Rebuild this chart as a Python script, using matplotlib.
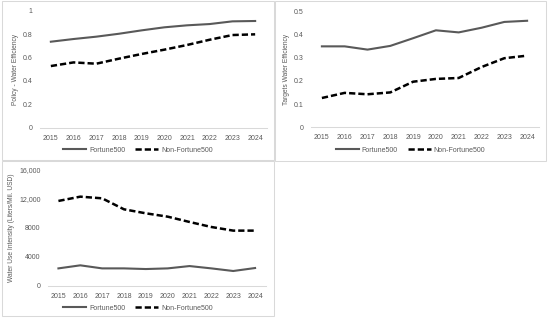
import matplotlib
matplotlib.use("Agg")
import matplotlib.pyplot as plt
from matplotlib.patches import Rectangle

plt.rcParams.update({
    'font.family': ['Liberation Sans', 'DejaVu Sans'],
    'font.size': 5.0,
})

years = [2015, 2016, 2017, 2018, 2019, 2020, 2021, 2022, 2023, 2024]

policy_f500 = [0.735, 0.758, 0.778, 0.803, 0.832, 0.858, 0.875, 0.886, 0.909, 0.912]
policy_non = [0.527, 0.558, 0.547, 0.590, 0.630, 0.667, 0.707, 0.752, 0.792, 0.798]

targets_f500 = [0.348, 0.348, 0.334, 0.350, 0.383, 0.417, 0.408, 0.428, 0.453, 0.458]
targets_non = [0.126, 0.148, 0.142, 0.150, 0.196, 0.208, 0.212, 0.259, 0.297, 0.308]

intensity_f500 = [2380, 2800, 2380, 2380, 2290, 2380, 2700, 2380, 2020, 2430]
intensity_non = [11650, 12240, 12010, 10500, 9950, 9490, 8760, 8070, 7570, 7570]

panels = [
    dict(f500=policy_f500, non=policy_non, ylabel='Policy - Water Efficiency',
         yticks=[0, 0.2, 0.4, 0.6, 0.8, 1], yticklabels=['0', '0.2', '0.4', '0.6', '0.8', '1'],
         ylim=(0, 1), box=(2, 1, 274, 160), axes_px=(39.5, 266.5, 10.7, 127.7), legend_y=150),
    dict(f500=targets_f500, non=targets_non, ylabel='Targets Water Efficiency',
         yticks=[0, 0.1, 0.2, 0.3, 0.4, 0.5], yticklabels=['0', '0.1', '0.2', '0.3', '0.4', '0.5'],
         ylim=(0, 0.5), box=(275, 1, 546, 161), axes_px=(310.5, 538.5, 11.0, 127.3), legend_y=150),
    dict(f500=intensity_f500, non=intensity_non, ylabel='Water Use Intensity (Liters/Mil. USD)',
         yticks=[0, 4000, 8000, 12000, 16000], yticklabels=['0', '4000', '8000', '12,000', '16,000'],
         ylim=(0, 16000), box=(2, 161, 274, 316), axes_px=(47.5, 266.0, 169.3, 285.7), legend_y=308),
]

W, H = 550, 323
fig = plt.figure(figsize=(W / 100, H / 100), dpi=100)
fig.patch.set_facecolor('white')

GREY = '#595959'
x = list(range(len(years)))

for p in panels:
    bx0, by0, bx1, by1 = p['box']
    fig.add_artist(Rectangle((bx0 / W, 1 - by1 / H), (bx1 - bx0) / W, (by1 - by0) / H,
                             transform=fig.transFigure, fill=False,
                             edgecolor='#d9d9d9', linewidth=0.75))

    x0, x1, ytop, ybot = p['axes_px']
    ax = fig.add_axes([x0 / W, 1 - ybot / H, (x1 - x0) / W, (ybot - ytop) / H])
    ax.set_facecolor('none')

    ax.plot(x, p['f500'], color=GREY, lw=1.5, label='Fortune500')
    ax.plot(x, p['non'], color='black', lw=1.8, linestyle=(0, (2.5, 1.2)), label='Non-Fortune500')

    ax.set_xlim(-0.5, len(years) - 0.5)
    ax.set_ylim(*p['ylim'])
    ax.set_xticks(x)
    ax.set_xticklabels([str(y) for y in years])
    ax.set_yticks(p['yticks'])
    ax.set_yticklabels(p['yticklabels'])
    ax.tick_params(length=0, colors=GREY, labelsize=5.0, pad=5)
    for s in ['top', 'right', 'left']:
        ax.spines[s].set_visible(False)
    ax.spines['bottom'].set_color('#d9d9d9')
    ax.spines['bottom'].set_linewidth(0.75)
    ax.set_ylabel(p['ylabel'], color=GREY, fontsize=4.8, labelpad=3)

    ax.legend(loc='center', bbox_to_anchor=((bx0 + bx1) / 2 / W, 1 - p['legend_y'] / H),
              bbox_transform=fig.transFigure, ncol=2, frameon=False,
              handlelength=3.3, columnspacing=1.5, handletextpad=0.4,
              fontsize=5.0, labelcolor=GREY)

fig.savefig('out.png', dpi=100, facecolor='white')
